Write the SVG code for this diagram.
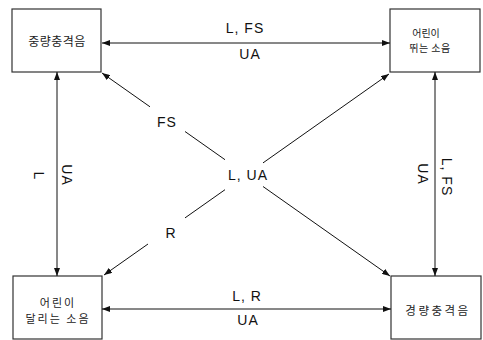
<svg xmlns="http://www.w3.org/2000/svg" width="483" height="340" viewBox="0 0 483 340">
<style>
.box{fill:#fff;stroke:#333;stroke-width:1.2}
.ln{fill:none;stroke:#111;stroke-width:1}
.lbl{font-family:"Liberation Sans",Arial,sans-serif;font-size:14px;fill:#111;text-anchor:middle;letter-spacing:1px}
.kr{font-family:"Noto Sans CJK KR",sans-serif;fill:#222;text-anchor:middle}
</style>
<defs>
<marker id="ah" viewBox="0 0 8 6" refX="8" refY="3" markerWidth="8" markerHeight="6" markerUnits="userSpaceOnUse" orient="auto-start-reverse">
<path d="M0,0 L8,3 L0,6 z" fill="#111"/>
</marker>
</defs>
<rect width="483" height="340" fill="#fff"/>
<g id="node-heavy">
<rect class="box" x="12" y="9" width="89" height="63"/>
<text class="kr" x="57" y="46" font-size="12" letter-spacing="0.5">중량충격음</text>
</g>
<g id="node-child-run">
<rect class="box" x="390" y="9" width="90" height="63"/>
<text class="kr" x="426" y="37" font-size="10">어린이</text>
<text class="kr" x="430" y="52" font-size="10" letter-spacing="0.5">뛰는 소음</text>
</g>
<g id="node-child-dash">
<rect class="box" x="13" y="276" width="89" height="63"/>
<text class="kr" x="58" y="307" font-size="11" letter-spacing="2">어린이</text>
<text class="kr" x="58" y="323" font-size="11" letter-spacing="2">달리는 소음</text>
</g>
<g id="node-light">
<rect class="box" x="391" y="276" width="90" height="63"/>
<text class="kr" x="438" y="315" font-size="11.5" letter-spacing="2.5">경량충격음</text>
</g>
<g id="connectors">
<line class="ln" x1="102" y1="43" x2="390" y2="43" marker-start="url(#ah)" marker-end="url(#ah)"/>
<line class="ln" x1="102" y1="309" x2="391" y2="309" marker-start="url(#ah)" marker-end="url(#ah)"/>
<line class="ln" x1="57" y1="72" x2="57" y2="276" marker-start="url(#ah)" marker-end="url(#ah)"/>
<line class="ln" x1="435" y1="72" x2="435" y2="276" marker-start="url(#ah)" marker-end="url(#ah)"/>
<line class="ln" x1="150" y1="106.8" x2="102" y2="73" marker-end="url(#ah)"/>
<line class="ln" x1="185" y1="131.5" x2="225" y2="159.7"/>
<line class="ln" x1="263" y1="186.5" x2="390" y2="276" marker-end="url(#ah)"/>
<line class="ln" x1="148" y1="244" x2="104" y2="275" marker-end="url(#ah)"/>
<line class="ln" x1="185" y1="217.9" x2="225" y2="189.7"/>
<line class="ln" x1="263" y1="162.9" x2="389" y2="74" marker-end="url(#ah)"/>
</g>
<g id="labels">
<text class="lbl" x="245" y="33">L, FS</text>
<text class="lbl" x="250" y="59">UA</text>
<text class="lbl" x="247" y="301">L, R</text>
<text class="lbl" x="248" y="325">UA</text>
<text class="lbl" x="248" y="180">L, UA</text>
<text class="lbl" x="167" y="127">FS</text>
<text class="lbl" x="171" y="238">R</text>
<text class="lbl" transform="translate(62,175) rotate(90)">UA</text>
<text class="lbl" transform="translate(34,176) rotate(90)">L</text>
<text class="lbl" transform="translate(442,177) rotate(90)">L, FS</text>
<text class="lbl" transform="translate(418,174) rotate(90)">UA</text>
</g>
</svg>
